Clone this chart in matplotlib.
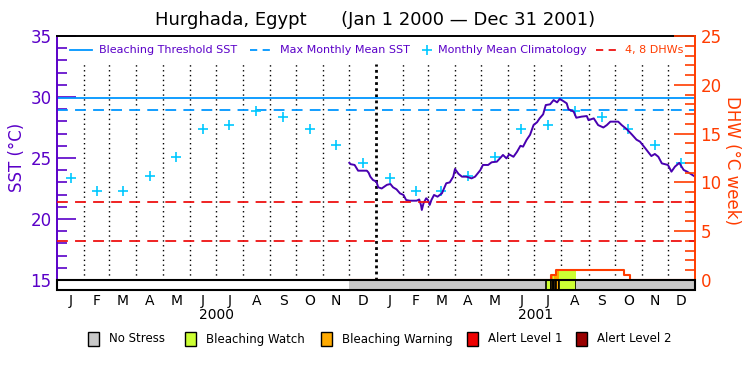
import numpy as np
import matplotlib
matplotlib.use("Agg")
import matplotlib.pyplot as plt
from matplotlib.patches import Rectangle
from matplotlib.lines import Line2D

# ---------------- data ----------------
title = "Hurghada, Egypt      (Jan 1 2000 \u2014 Dec 31 2001)"
month_letters = list("JFMAMJJASOND")
year_labels = ["2000", "2001"]

clim_sst = [23.34, 22.27, 22.27, 23.52, 25.12, 27.35, 27.68, 28.88, 28.33, 27.35, 26.10, 24.57]
mmm_sst = 28.9
threshold_sst = 29.9
dhw_levels = [4, 8]

# days since 2000-01-01
sst_day = [335, 336, 341, 345, 355, 357, 359, 362, 366, 368, 372, 378, 382, 385, 389, 393, 397, 400,
           404, 412, 415, 417, 418, 420, 423, 425, 427, 429, 432, 436, 441, 446, 450, 454, 456, 460,
           464, 469, 475, 479, 485, 488, 494, 498, 504, 511, 515, 518, 523, 527, 531, 534, 538, 542,
           546, 550, 553, 557, 560, 565, 569, 573, 576, 580, 584, 586, 592, 595, 601, 607, 609, 615,
           620, 626, 630, 634, 643, 647, 653, 659, 664, 668, 674, 678, 681, 685, 689, 693, 700, 704,
           708, 713, 718, 722, 730]
sst_val = [24.61, 24.5, 24.43, 23.96, 23.96, 23.8, 23.47, 23.2, 23.06, 22.6, 22.5, 22.8, 22.87, 22.6,
           22.43, 22.1, 21.97, 21.56, 21.5, 21.5, 21.6, 21.15, 20.74, 21.3, 21.7, 21.56, 21.15, 21.56,
           21.97, 21.83, 22.1, 22.93, 23.0, 23.47, 24.1, 23.7, 23.47, 23.47, 23.33, 23.47, 24.0, 24.43,
           24.43, 24.65, 24.7, 25.25, 24.97, 25.3, 25.1, 25.5, 26.0, 25.93, 26.48, 26.9, 27.7, 27.93,
           28.25, 28.58, 29.34, 29.4, 29.75, 29.56, 29.84, 29.67, 29.48, 29.0, 28.8, 28.3, 28.39, 28.44,
           28.1, 28.25, 27.7, 27.5, 27.7, 27.98, 27.98, 27.7, 27.35, 26.9, 26.5, 26.34, 25.8, 25.43,
           25.16, 25.33, 25.1, 24.56, 24.43, 23.88, 24.29, 24.6, 24.02, 23.88, 23.52]

dhw_day = [335, 566, 572, 650, 656, 731]
dhw_val = [0.0, 0.5, 1.0, 0.5, 0.0, 0.0]

stress_start = [335, 560, 566, 568, 569, 572, 575, 595]
stress_end = [560, 566, 568, 569, 572, 575, 595, 731]
stress_level = [0, 1, 2, 1, 2, 2, 1, 0]

stress_names = ["No Stress", "Bleaching Watch", "Bleaching Warning", "Alert Level 1", "Alert Level 2"]
stress_colors = ["#c8c8c8", "#ccff33", "#ffaa00", "#ee0000", "#990000"]

# ---------------- style ----------------
purple = "#5a00c8"
line_purple = "#4800b0"
orange = "#ff3c00"
blue = "#0096ff"
cyan = "#00c8ff"
red = "#ee1111"

W, H = 750, 375
fig = plt.figure(figsize=(7.5, 3.75), dpi=100)
ax_l, ax_r, ax_t, ax_b = 57, 695, 36, 290
ax = fig.add_axes([ax_l / W, 1 - ax_b / H, (ax_r - ax_l) / W, (ax_b - ax_t) / H])


def fx(px):
    return px / W


def fy(py):
    return 1 - py / H


sst_px = (280 - 36) / 20.0
sst_lo = 15 - 10 / sst_px
dhw_px = (280 - 36) / 25.0
dhw_lo = 0 - 10 / dhw_px

ndays = 731
month_starts = (np.arange("2000-01", "2002-02", dtype="datetime64[M]").astype("datetime64[D]")
                - np.datetime64("2000-01-01")).astype(int)
month_mid = (month_starts[:-1] + month_starts[1:]) / 2.0

ax.set_xlim(0, ndays)
ax.set_ylim(sst_lo, 35)

# dotted month lines
for d in month_starts[1:-1]:
    bold = (d == 366)
    ax.plot([d, d], [15, 32.7], color="black", linestyle=(0, (1, 2.5)) if not bold else (0, (1, 1.2)),
            lw=2.0 if bold else 1.0, zorder=1)

# reference lines
ax.axhline(threshold_sst, color=blue, lw=1.3, zorder=2)
ax.axhline(mmm_sst, color=blue, lw=1.3, ls=(0, (6, 4)), zorder=2)

# climatology crosses
ax.plot(month_mid, clim_sst * 2, ls="none", marker="+", ms=7.5, mew=1.2, color=cyan, zorder=3)

# SST line
ax.plot(sst_day, sst_val, color=line_purple, lw=1.4, zorder=4)

ax.set_yticks([15, 20, 25, 30, 35])
ax.set_yticks(np.arange(15, 36, 1), minor=True)
ax.tick_params(axis="y", which="major", direction="in", length=14, width=1.2, colors=purple,
               labelsize=12, pad=4)
ax.tick_params(axis="y", which="minor", direction="in", length=7, width=1.2, colors=purple)
ax.set_xticks(month_mid)
ax.set_xticklabels(month_letters * 2)
ax.tick_params(axis="x", length=0, labelsize=10, pad=3)
for s in ["top", "bottom"]:
    ax.spines[s].set_color("black")
    ax.spines[s].set_linewidth(1.4)
ax.spines["left"].set_color(purple)
ax.spines["left"].set_linewidth(1.4)
ax.spines["right"].set_visible(False)

for k, yl in enumerate(year_labels):
    ax.text((month_starts[12 * k] + month_starts[12 * k + 12]) / 2, -0.1, yl,
            transform=ax.get_xaxis_transform(), ha="center", va="center", fontsize=10)

# DHW axis
ax2 = ax.twinx()
ax2.set_ylim(dhw_lo, 25)
ax2.set_xlim(0, ndays)
for s in ["top", "bottom", "left"]:
    ax2.spines[s].set_visible(False)
ax2.spines["right"].set_color(orange)
ax2.spines["right"].set_linewidth(1.4)
ax2.set_yticks([0, 5, 10, 15, 20, 25])
ax2.set_yticks(np.arange(0, 26, 1), minor=True)
ax2.tick_params(axis="y", which="major", direction="in", length=15, width=1.2, colors=orange,
                labelsize=12, pad=4)
ax2.tick_params(axis="y", which="minor", direction="in", length=7, width=1.2, colors=orange)

for lv in dhw_levels:
    ax2.axhline(lv, color=red, lw=1.3, ls=(0, (6, 4)), zorder=2)

# DHW fill coloured by stress level
dd = np.array(dhw_day)
dv = np.array(dhw_val)
for a, b, lv in zip(stress_start, stress_end, stress_level):
    if lv == 0:
        continue
    xs = np.arange(a, b + 1)
    idx = np.searchsorted(dd, xs, side="right") - 1
    ys = dv[idx]
    ax2.fill_between(xs, 0, ys, step="post", color=stress_colors[lv], lw=0, zorder=3)

ax2.step(dhw_day, dhw_val, where="post", color=orange, lw=1.5, zorder=4)

# stress bar
ax2.add_patch(Rectangle((0, dhw_lo), ndays, -dhw_lo, facecolor="white", edgecolor="none", zorder=5))
for a, b, lv in zip(stress_start, stress_end, stress_level):
    ax2.add_patch(Rectangle((a, dhw_lo), b - a, -dhw_lo, facecolor=stress_colors[lv],
                            edgecolor="black" if lv > 0 else "none", lw=1.2, zorder=6))
ax2.add_patch(Rectangle((0, dhw_lo), ndays, -dhw_lo, facecolor="none", edgecolor="black",
                        lw=1.5, zorder=7, clip_on=False))

# top legend (placed in pixel positions)
leg_y = fy(50)
top_items = [
    dict(x0=70, x1=92, kind="line", color=blue, ls="-", tx=99, text="Bleaching Threshold SST", tc=purple),
    dict(x0=250, x1=273, kind="line", color=blue, ls=(0, (4, 3)), tx=280, text="Max Monthly Mean SST", tc=purple),
    dict(x0=427, x1=427, kind="plus", color=cyan, ls="none", tx=438, text="Monthly Mean Climatology", tc=purple),
    dict(x0=596, x1=619, kind="line", color=red, ls=(0, (4, 3)), tx=625, text="4, 8 DHWs", tc=orange),
]
for it in top_items:
    if it["kind"] == "line":
        fig.add_artist(Line2D([fx(it["x0"]), fx(it["x1"])], [leg_y, leg_y], color=it["color"],
                              ls=it["ls"], lw=1.3, transform=fig.transFigure))
    else:
        fig.add_artist(Line2D([fx(it["x0"])], [leg_y], color=it["color"], ls="none", marker="+",
                              ms=7.5, mew=1.2, transform=fig.transFigure))
    fig.text(fx(it["tx"]), leg_y, it["text"], color=it["tc"], fontsize=8, ha="left", va="center")

# bottom legend
box_x = [88, 185, 321, 467, 576]
for bx, c, name in zip(box_x, stress_colors, stress_names):
    fig.add_artist(Rectangle((fx(bx), fy(346)), fx(11), 14 / H, facecolor=c, edgecolor="black",
                             lw=1.0, transform=fig.transFigure))
    fig.text(fx(bx + 21), fy(339), name, fontsize=8.5, ha="left", va="center")

# titles / labels
fig.text(0.5, fy(20), title, ha="center", va="center", fontsize=13)
fig.text(fx(17), fy(157), "SST (\u00b0C)", rotation=90, ha="center", va="center",
         fontsize=12, color=purple)
fig.text(fx(732), fy(161), "DHW (\u00b0C week)", rotation=270, ha="center", va="center",
         fontsize=12, color=orange)

fig.savefig("out.png", dpi=100)
